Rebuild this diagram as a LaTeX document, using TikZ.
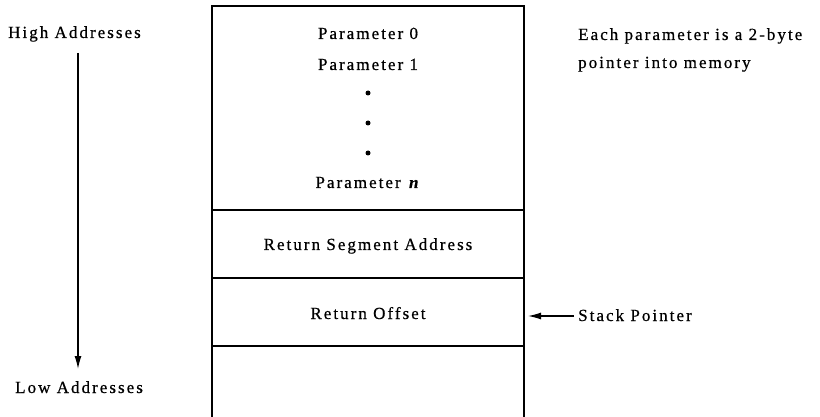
\documentclass[tikz,border=0pt]{standalone}
\usepackage{fontspec}
\setmainfont{Liberation Serif}[LetterSpace=12,FakeBold=0.6]
\usetikzlibrary{arrows.meta}
\begin{document}
\begin{tikzpicture}[x=1pt,y=-1pt,
  lbl/.style={font=\fontsize{17}{19}\selectfont, inner sep=0pt},
  ctr/.style={lbl, anchor=base},
  lft/.style={lbl, anchor=base west},
  boxline/.style={line width=1.2pt},
  arr/.style={line width=1.3pt, -{Latex[length=13pt,width=7pt]}},
  dotmark/.style={circle, fill=black, inner sep=0pt, minimum size=5pt}]
\useasboundingbox (0,0) rectangle (820,417);
% stack frame box
\draw[boxline] (212,420) -- (212,6) -- (524,6) -- (524,420);
\draw[boxline] (212,210) -- (524,210);
\draw[boxline] (212,278) -- (524,278);
\draw[boxline] (212,346) -- (524,346);
% texts in box
\node[ctr] (p0) at (368,39) {Parameter 0};
\node[ctr] (p1) at (368,70) {Parameter 1};
\node[dotmark] (d1) at (368,93) {};
\node[dotmark] (d2) at (368,123) {};
\node[dotmark] (d3) at (368,153) {};
\node[ctr] (pn) at (368,188) {Parameter \textbf{\textit{n}}};
\node[ctr] (rsa) at (368,250) {Return Segment Address};
\node[ctr] (ro) at (368,319) {Return Offset};
% side texts
\node[lft] (hi) at (8,38) {High Addresses};
\node[lft] (lo) at (15,393) {Low Addresses};
\coordinate (atop) at (78,53);
\coordinate (abot) at (78,369);
\draw[arr] (atop) -- (abot);
\node[lft] (note1) at (578,40) {Each parameter is a 2-byte};
\node[lft] (note2) at (578,68) {pointer into memory};
\node[lft] (sp) at (578,321) {Stack Pointer};
\coordinate (sptip) at (528,316);
\draw[arr] (sp.west |- sptip) ++(-4,0) -- (sptip);
\end{tikzpicture}
\end{document}
